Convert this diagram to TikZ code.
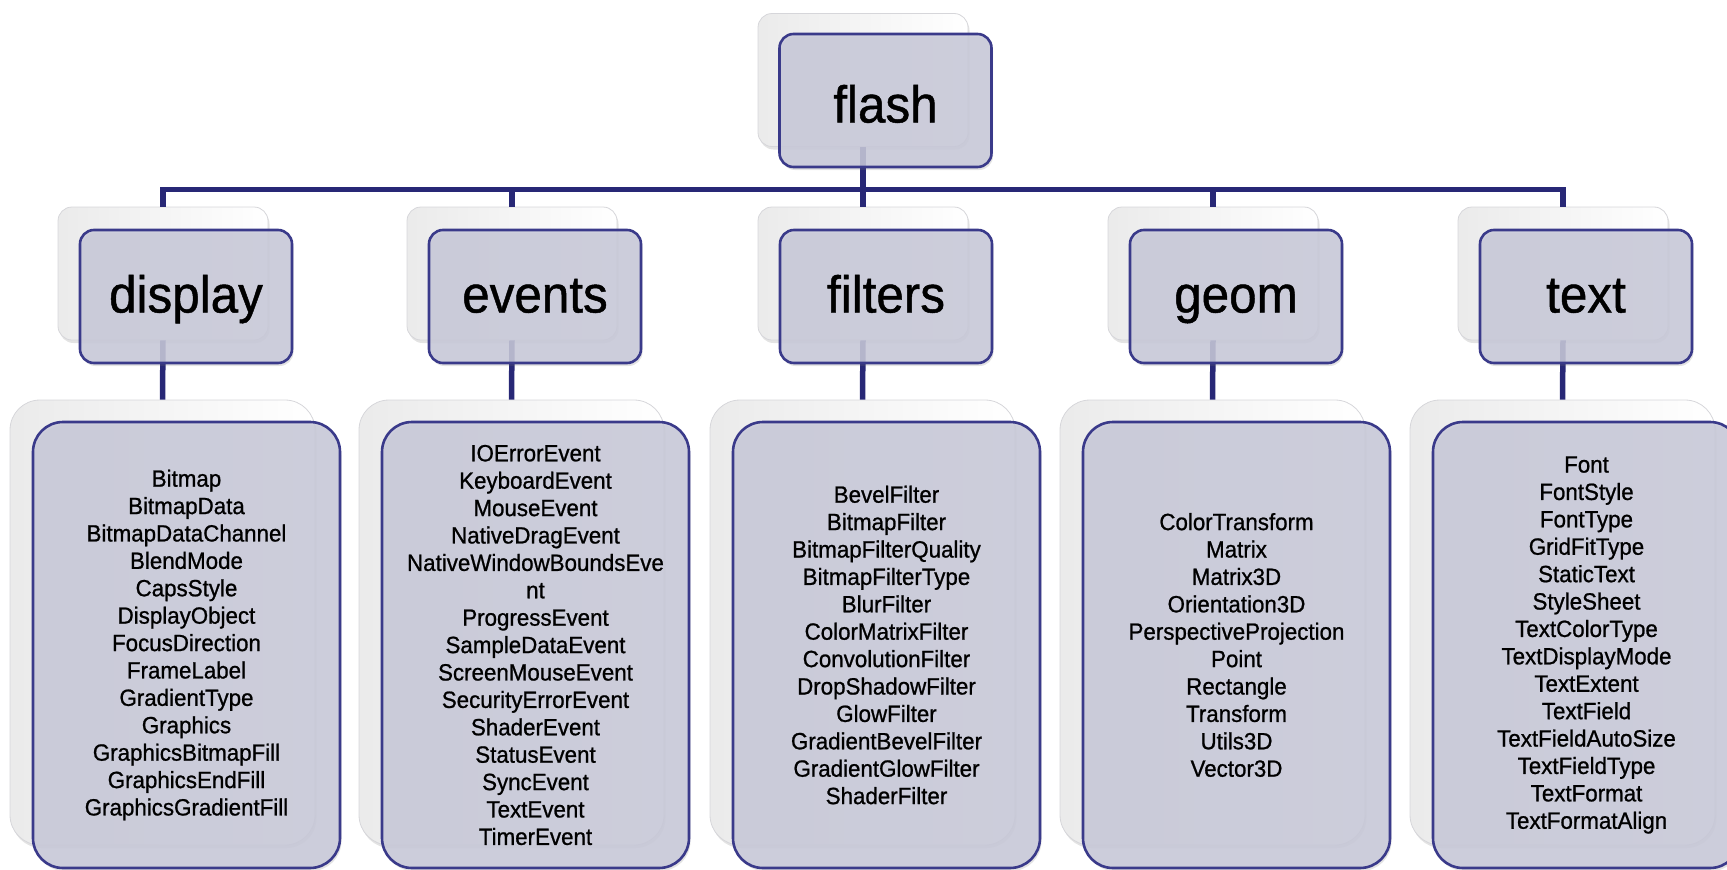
\documentclass[tikz,border=0pt]{standalone}
\usepackage{fontspec}
\setmainfont[FakeStretch=0.95,FakeBold=0.9]{Liberation Sans}
\usetikzlibrary{shadows}
\definecolor{linecol}{RGB}{40,40,118}
\definecolor{frontfill}{RGB}{201,202,218}
\definecolor{frontdraw}{RGB}{58,58,138}
\definecolor{backdraw}{RGB}{214,214,218}
\begin{document}
\begin{tikzpicture}[x=1pt,y=-1pt,
  shadowed/.style={drop shadow={opacity=0.2, shadow xshift=1.5pt, shadow yshift=-3pt, fill=black!55}},
  backbase/.style={rectangle, rounded corners=14pt, left color=black!8, right color=white, draw=backdraw, line width=0.8pt, shadowed},
  frontbase/.style={rectangle, rounded corners=14pt, fill=frontfill, fill opacity=0.86, text opacity=1, draw=frontdraw, draw opacity=1, line width=2.6pt, text=black, shadowed},
  backbox/.style={backbase, minimum width=210pt, minimum height=133pt},
  frontbox/.style={frontbase, minimum width=212pt, minimum height=133pt, font=\fontsize{52}{60}\selectfont, text height=40pt, text depth=8pt},
  backlist/.style={backbase, rounded corners=30pt, minimum width=305pt, minimum height=445pt},
  frontlist/.style={frontbase, rounded corners=30pt, minimum width=307pt, minimum height=446pt, align=center, font=\fontsize{23.5}{27.4}\selectfont},
  conn/.style={draw=linecol, line width=5.5pt, line join=miter}
]
\useasboundingbox (0,0) rectangle (1727,870);
\clip (0,0) rectangle (1727,870);

% back boxes
\node[backbox] (flashB) at (863,80) {};
\node[backbox] (dispB) at (163,273.5) {};
\node[backbox] (evB) at (512,273.5) {};
\node[backbox] (filB) at (863,273.5) {};
\node[backbox] (geoB) at (1213,273.5) {};
\node[backbox] (txtB) at (1563,273.5) {};

\node[backlist] (dispLB) at (162.5,622.5) {};
\node[backlist] (evLB) at (511.5,622.5) {};
\node[backlist] (filLB) at (862.5,622.5) {};
\node[backlist] (geoLB) at (1212.5,622.5) {};
\node[backlist] (txtLB) at (1562.5,622.5) {};

% connectors
\coordinate (bus) at (863,189.5);
\draw[conn] (dispB.north) |- (bus) -| (txtB.north);
\draw[conn] (flashB.south) -- (bus);
\draw[conn] (evB.north) -- (evB.north |- bus);
\draw[conn] (filB.north) -- (filB.north |- bus);
\draw[conn] (geoB.north) -- (geoB.north |- bus);
\draw[conn] (dispB.south) -- (dispLB.north);
\draw[conn] (evB.south) -- (evLB.north);
\draw[conn] (filB.south) -- (filLB.north);
\draw[conn] (geoB.south) -- (geoLB.north);
\draw[conn] (txtB.south) -- (txtLB.north);

% front boxes
\node[frontbox, text height=46pt, text depth=2pt] (flash) at (885.5,100.5) {flash};
\node[frontbox] (disp) at (186,296.5) {display};
\node[frontbox] (ev) at (535,296.5) {events};
\node[frontbox] (fil) at (886,296.5) {filters};
\node[frontbox] (geo) at (1236,296.5) {geom};
\node[frontbox] (txt) at (1586,296.5) {text};

\node[frontlist] (dispL) at (186.5,645) {Bitmap\\BitmapData\\BitmapDataChannel\\BlendMode\\CapsStyle\\DisplayObject\\FocusDirection\\FrameLabel\\GradientType\\Graphics\\GraphicsBitmapFill\\GraphicsEndFill\\GraphicsGradientFill};
\node[frontlist] (evL) at (535.5,645) {IOErrorEvent\\KeyboardEvent\\MouseEvent\\NativeDragEvent\\NativeWindowBoundsEve\\nt\\ProgressEvent\\SampleDataEvent\\ScreenMouseEvent\\SecurityErrorEvent\\ShaderEvent\\StatusEvent\\SyncEvent\\TextEvent\\TimerEvent};
\node[frontlist] (filL) at (886.5,645) {BevelFilter\\BitmapFilter\\BitmapFilterQuality\\BitmapFilterType\\BlurFilter\\ColorMatrixFilter\\ConvolutionFilter\\DropShadowFilter\\GlowFilter\\GradientBevelFilter\\GradientGlowFilter\\ShaderFilter};
\node[frontlist] (geoL) at (1236.5,645) {ColorTransform\\Matrix\\Matrix3D\\Orientation3D\\PerspectiveProjection\\Point\\Rectangle\\Transform\\Utils3D\\Vector3D};
\node[frontlist] (txtL) at (1586.5,645) {Font\\FontStyle\\FontType\\GridFitType\\StaticText\\StyleSheet\\TextColorType\\TextDisplayMode\\TextExtent\\TextField\\TextFieldAutoSize\\TextFieldType\\TextFormat\\TextFormatAlign};
\end{tikzpicture}
\end{document}
